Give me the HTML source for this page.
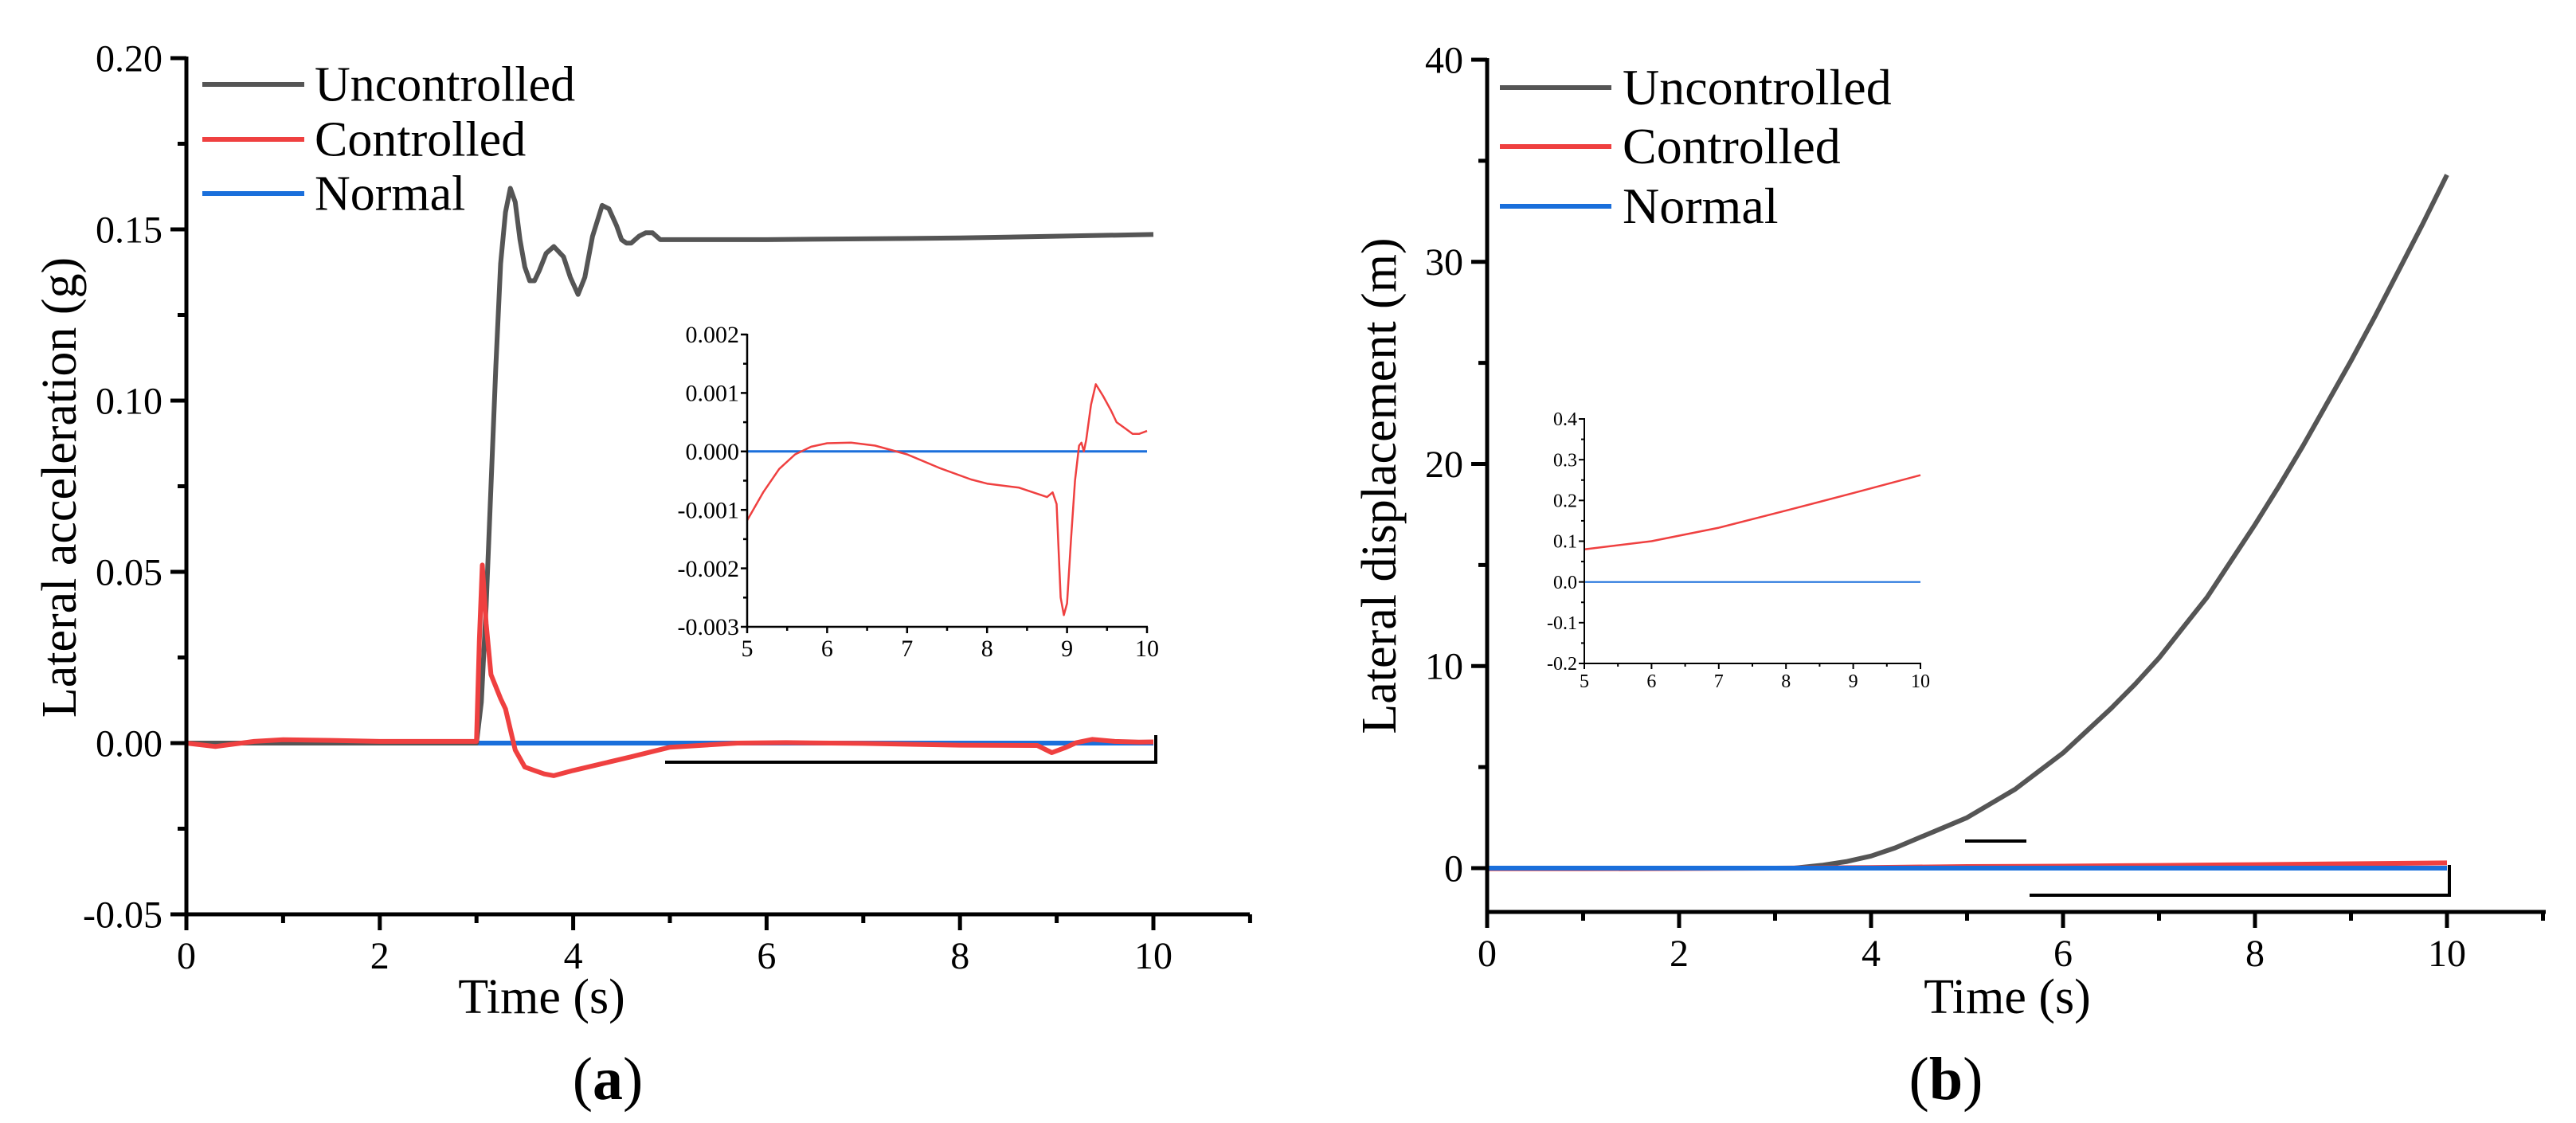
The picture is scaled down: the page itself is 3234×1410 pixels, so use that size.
<!DOCTYPE html>
<html><head><meta charset="utf-8">
<style>
html,body{margin:0;padding:0;background:#fff;}
svg, svg text{font-family:"Liberation Serif","DejaVu Serif",serif;}
</style></head>
<body>
<svg id="fig" width="3234" height="1405" viewBox="0 0 3234 1405" xmlns="http://www.w3.org/2000/svg" font-family="Liberation Serif, DejaVu Serif, serif"></svg>
<script>
// ---------- Panel (a) data ----------
const aUncT = [0,1,2,3.0,3.05,3.1,3.2,3.25,3.3,3.35,3.4,3.45,3.5,3.55,3.6,3.65,3.72,3.8,3.9,3.97,4.05,4.12,4.2,4.3,4.37,4.45,4.5,4.55,4.6,4.68,4.75,4.82,4.9,5.1,6,8,10];
const aUncV = [0,0,0,0,0.012,0.04,0.11,0.14,0.155,0.162,0.158,0.147,0.139,0.135,0.135,0.138,0.143,0.145,0.142,0.136,0.131,0.136,0.148,0.157,0.156,0.151,0.147,0.146,0.146,0.148,0.149,0.149,0.147,0.147,0.147,0.1475,0.1485];
const aConT = [0,0.3,0.7,1,1.5,2,3,3.03,3.06,3.1,3.15,3.25,3.3,3.4,3.5,3.6,3.7,3.8,4,4.3,4.6,5,5.7,6.2,7,8,8.8,8.95,9.1,9.2,9.37,9.6,9.85,10];
const aConV = [0,-0.001,0.0005,0.001,0.0008,0.0005,0.0005,0.03,0.052,0.035,0.02,0.013,0.01,-0.002,-0.007,-0.008,-0.009,-0.0095,-0.008,-0.006,-0.004,-0.0012,0,0.00015,-0.0001,-0.0006,-0.0007,-0.0028,-0.0012,0.0001,0.0011,0.0005,0.0003,0.00035];
const aNorT = [0,10];
const aNorV = [0,0];
const aInsT = [5,5.2,5.4,5.6,5.8,6,6.3,6.6,7,7.4,7.8,8.0,8.4,8.75,8.82,8.87,8.92,8.96,9.0,9.05,9.1,9.15,9.18,9.21,9.24,9.3,9.36,9.45,9.55,9.62,9.72,9.82,9.9,10];
const aInsV = [-0.00118,-0.0007,-0.0003,-0.00005,0.00008,0.00014,0.00015,0.0001,-0.00005,-0.00028,-0.00048,-0.00055,-0.00062,-0.00078,-0.0007,-0.0009,-0.0025,-0.0028,-0.0026,-0.0015,-0.0005,0.0001,0.00015,0.0,0.0002,0.0008,0.00115,0.00095,0.0007,0.0005,0.0004,0.0003,0.0003,0.00035];
const aYTicks = ["0.20","0.15","0.10","0.05","0.00","-0.05"];
const aInsYTicks = ["0.002","0.001","0.000","-0.001","-0.002","-0.003"];
// ---------- Panel (b) data ----------
const bUncT = [0,1,2,3,3.2,3.5,3.75,4,4.25,4.5,4.75,5,5.25,5.5,5.75,6,6.25,6.5,6.75,7,7.25,7.5,7.75,8,8.25,8.5,8.75,9,9.25,9.5,9.75,10];
const bUncV = [0,0,0,0,0,0.15,0.33,0.6,1.0,1.5,2.0,2.5,3.2,3.9,4.8,5.7,6.8,7.9,9.1,10.4,11.9,13.4,15.2,17.0,18.9,20.9,23.0,25.1,27.3,29.6,31.9,34.3];
const bConT = [0,1,2,3,4,5,6,7,8,9,10];
const bConV = [-0.03,-0.03,-0.02,0,0.03,0.08,0.1,0.133,0.175,0.218,0.262];
const bNorT = [0,10];
const bNorV = [0,0];
const bYTicks = ["40","30","20","10","0"];
const bInsYTicks = ["0.4","0.3","0.2","0.1","0.0","-0.1","-0.2"];
const xTicks = ["0","2","4","6","8","10"];
const insXTicks = ["5","6","7","8","9","10"];

const NS="http://www.w3.org/2000/svg";
const FF="Liberation Serif, DejaVu Serif, serif";
const svg=document.getElementById('fig');
function mk(tag,attrs,parent){const e=document.createElementNS(NS,tag);for(const k in attrs)e.setAttribute(k,attrs[k]);if(tag==='text')e.setAttribute('font-family',FF);(parent||svg).appendChild(e);return e;}
function lin(d0,d1,r0,r1){return v=>r0+(v-d0)*(r1-r0)/(d1-d0);}
function path(ts,vs,sx,sy){return ts.map((t,i)=>(i?'L':'M')+sx(t).toFixed(1)+','+sy(vs[i]).toFixed(1)).join(' ');}

function axes(g,o){
  const sx=o.sx, sy=o.sy;
  let l=mk('line',{x1:o.axX,y1:o.yTop,x2:o.axX,y2:o.axY+o.lw/2,stroke:'#000','stroke-width':o.lw},g);
  
  
  l=mk('line',{x1:o.axX-o.lw/2,y1:o.axY,x2:o.axRight,y2:o.axY,stroke:'#000','stroke-width':o.lw},g);
  
  
  for(let v=o.xmin; v<=o.xend+1e-9; v+=o.xminor){
    const major=Math.abs(Math.round(v/o.xmajor)*o.xmajor-v)<1e-9;
    const t=mk('line',{x1:sx(v),y1:o.axY,x2:sx(v),y2:o.axY+(major?o.tmaj:o.tmin),stroke:'#000','stroke-width':o.lw},g);
    
    
  }
  o.xLabels.forEach((s,i)=>{
    const v=o.xmin+i*o.xmajor;
    const t=mk('text',{x:sx(v),y:o.axY+o.xlOff,'text-anchor':'middle','font-size':o.fs},g);
    t.textContent=s;
    
    
  });
  for(let k=0;k<=Math.round((o.ymax-o.ymin)/o.yminor);k++){
    const v=o.ymin+k*o.yminor;
    const major=k%Math.round(o.ymajor/o.yminor)===0;
    const t=mk('line',{x1:o.axX-(major?o.tmaj:o.tmin),y1:sy(v),x2:o.axX,y2:sy(v),stroke:'#000','stroke-width':o.lw},g);
    
    
  }
  o.yLabels.forEach((s,i)=>{
    const v=o.ymax-i*o.ymajor;
    const t=mk('text',{x:o.axX-o.ylOff,y:sy(v)+o.fs*0.34,'text-anchor':'end','font-size':o.fs},g);
    t.textContent=s;
    
    
  });
}
function series(g,ts,vs,sx,sy,color,w,name){
  const p=mk('path',{d:path(ts,vs,sx,sy),fill:'none',stroke:color,'stroke-width':w,'stroke-linejoin':'round'},g);
  
  
}
function legend(g,x1,x2,tx,ys,fs){
  const items=[['Uncontrolled','#555555'],['Controlled','#ef4040'],['Normal','#1a6fdb']];
  items.forEach((it,i)=>{
    const l=mk('line',{x1:x1,y1:ys[i],x2:x2,y2:ys[i],stroke:it[1],'stroke-width':6},g);
    
    
    const t=mk('text',{x:tx,y:ys[i]+fs*0.33,'font-size':fs},g);
    t.textContent=it[0];
    
    
  });
}
const C_UNC='#555555', C_CON='#ef4040', C_NOR='#1a6fdb';

// ===== Panel A =====
const gA=mk('g',{});


const axS=lin(0,10,234,1448), aySc=lin(-0.05,0.2,1148,73);
series(gA,aNorT,aNorV,axS,aySc,C_NOR,6,'normal-line-a');
series(gA,aUncT,aUncV,axS,aySc,C_UNC,6,'uncontrolled-line-a');
series(gA,aConT,aConV,axS,aySc,C_CON,6,'controlled-line-a');
axes(gA,{sx:axS,sy:aySc,axX:234,axY:1148,yTop:71,axRight:1569,lw:5,xmin:0,xend:11,xminor:1,xmajor:2,tmaj:20,tmin:11,
  xLabels:xTicks,xlOff:68,fs:48,ymin:-0.05,ymax:0.2,ymajor:0.05,yminor:0.025,yLabels:aYTicks,ylOff:30});
legend(gA,254,382,395,[106,175,243],62);
let t=mk('text',{x:0,y:0,'font-size':62,'text-anchor':'middle',transform:'translate(95,612) rotate(-90)'},gA);
t.textContent='Lateral acceleration (g)';


t=mk('text',{x:680,y:1272,'font-size':62,'text-anchor':'middle'},gA);
t.textContent='Time (s)';


t=mk('text',{x:763,y:1380,'font-size':76,'text-anchor':'middle'},gA);
t.innerHTML='(<tspan font-weight="bold">a</tspan>)';


let z=mk('path',{d:'M835,957 L1451,957 L1451,923',fill:'none',stroke:'#000','stroke-width':4},gA);


// inset A
const giA=mk('g',{});


const aixS=lin(5,10,938,1440), aiyS=lin(-0.003,0.002,787,420);
series(giA,[5,10],[0,0],aixS,aiyS,C_NOR,3,'normal-line-inset-a');
series(giA,aInsT,aInsV,aixS,aiyS,C_CON,2.5,'controlled-line-inset-a');
axes(giA,{sx:aixS,sy:aiyS,axX:938,axY:787,yTop:419,axRight:1441,lw:2.5,xmin:5,xend:10,xminor:0.5,xmajor:1,tmaj:8,tmin:5,
  xLabels:insXTicks,xlOff:37,fs:30,ymin:-0.003,ymax:0.002,ymajor:0.001,yminor:0.0005,yLabels:aInsYTicks,ylOff:10});

// ===== Panel B =====
const gB=mk('g',{});


const bxS=lin(0,10,1867,3072), bySc=lin(0,40,1090,75);
series(gB,bUncT,bUncV,bxS,bySc,C_UNC,6,'uncontrolled-line-b');
series(gB,bConT,bConV,bxS,bySc,C_CON,6,'controlled-line-b');
series(gB,bNorT,bNorV,bxS,bySc,C_NOR,6,'normal-line-b');
axes(gB,{sx:bxS,sy:bySc,axX:1867,axY:1145,yTop:73,axRight:3196,lw:5,xmin:0,xend:11,xminor:1,xmajor:2,tmaj:20,tmin:11,
  xLabels:xTicks,xlOff:68,fs:48,ymin:0,ymax:40,ymajor:10,yminor:5,yLabels:bYTicks,ylOff:30});
legend(gB,1883,2023,2037,[110,184,259],64);
t=mk('text',{x:0,y:0,'font-size':62,'text-anchor':'middle',transform:'translate(1752,610) rotate(-90)'},gB);
t.textContent='Lateral displacement (m)';


t=mk('text',{x:2520,y:1272,'font-size':62,'text-anchor':'middle'},gB);
t.textContent='Time (s)';


t=mk('text',{x:2443,y:1380,'font-size':76,'text-anchor':'middle'},gB);
t.innerHTML='(<tspan font-weight="bold">b</tspan>)';


z=mk('path',{d:'M2548,1124 L3075,1124 L3075,1086',fill:'none',stroke:'#000','stroke-width':4},gB);


z=mk('line',{x1:2467,y1:1056,x2:2544,y2:1056,stroke:'#000','stroke-width':4},gB);


// inset B
const giB=mk('g',{});


const bixS=lin(5,10,1989,2411), biyS=lin(-0.2,0.4,833,526);
series(giB,[5,10],[0,0],bixS,biyS,C_NOR,2,'normal-line-inset-b');
series(giB,bConT.slice(5),bConV.slice(5),bixS,biyS,C_CON,2.5,'controlled-line-inset-b');
axes(giB,{sx:bixS,sy:biyS,axX:1989,axY:833,yTop:525,axRight:2412,lw:2,xmin:5,xend:10,xminor:0.5,xmajor:1,tmaj:7,tmin:4,
  xLabels:insXTicks,xlOff:30,fs:24,ymin:-0.2,ymax:0.4,ymajor:0.1,yminor:0.05,yLabels:bInsYTicks,ylOff:9});
</script>
</body></html>
